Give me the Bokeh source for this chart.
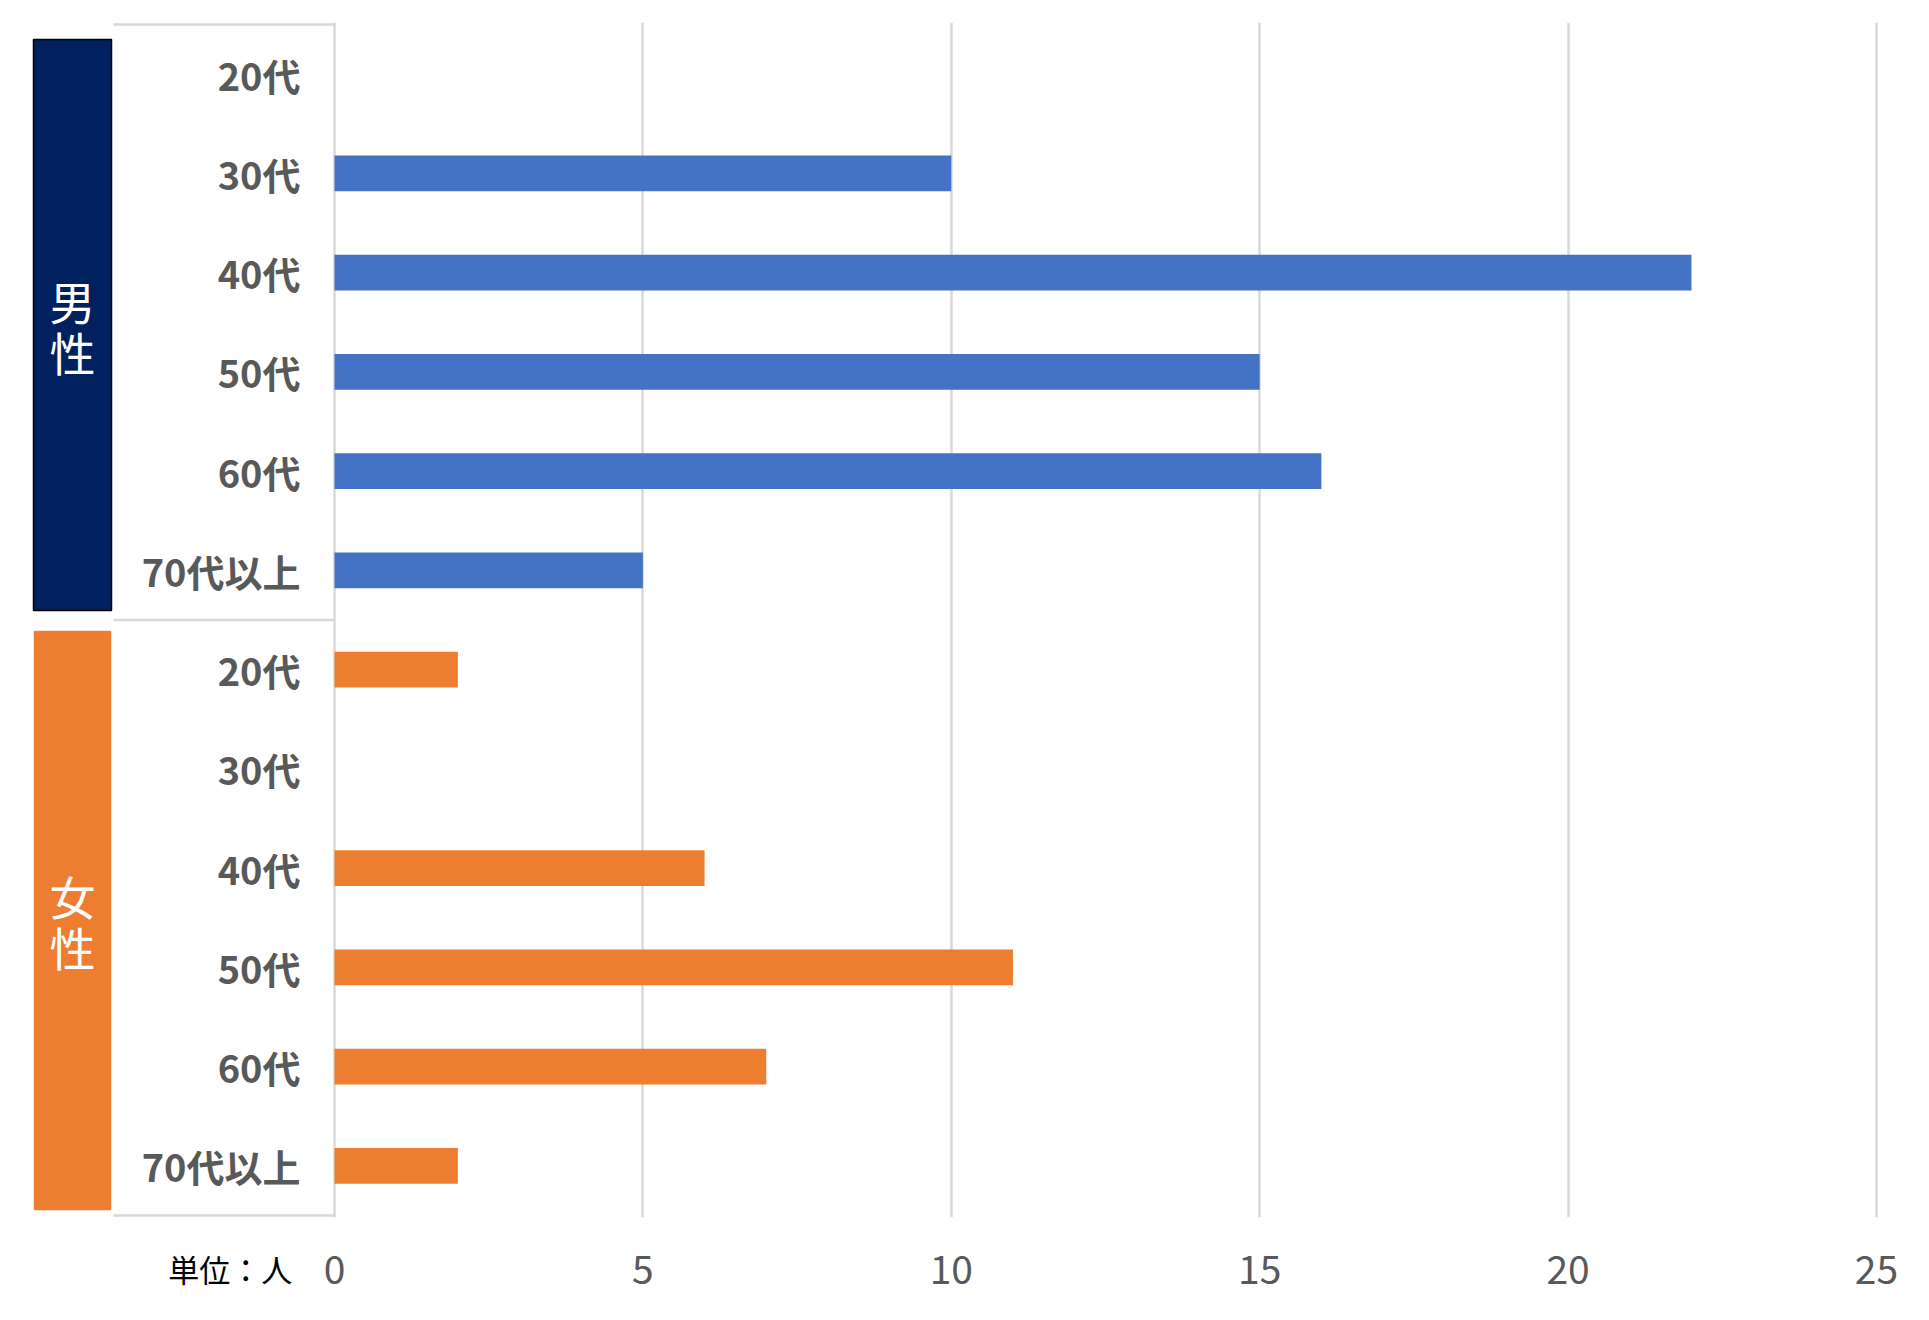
from bokeh.plotting import figure
from bokeh.models import Range1d, FixedTicker, ColumnDataSource, LinearAxis
from bokeh.core.properties import value
from bokeh.embed import file_html
from bokeh.resources import INLINE

# ---- data ----
ages = ["20代", "30代", "40代", "50代", "60代", "70代以上"]
genders = ["男性", "女性"]
male_values = [0, 10, 22, 15, 16, 5]
female_values = [2, 0, 6, 11, 7, 2]
x_ticks = [0, 5, 10, 15, 20, 25]
unit_label = "単位：人"

# ---- colours ----
BLUE = "#4472C4"
ORANGE = "#ED7D31"
NAVY = "#002060"
GRID = "#D9D9D9"
TEXT = "#595959"
FONT_NAME = "Noto Sans CJK JP"
FONT = value(FONT_NAME)

# ---- geometry (figure pixels) ----
W, H = 1910, 1304
px0, px25 = 334, 1876
k = (px25 - px0) / 25.0
frame_right = 1900
row_h = 99.25
top_px = 24
n_rows = len(ages) * len(genders)
pad = 2 / row_h

x_start = -px0 / k
x_end = (frame_right - px0) / k

def dx(px):
    return (px - px0) / k

def dy(py):
    return n_rows - (py - top_px) / row_h

p = figure(width=W, height=H,
           x_range=Range1d(x_start, x_end),
           y_range=Range1d(-pad, n_rows + pad),
           output_backend="svg", toolbar_location=None,
           y_axis_location=None,
           min_border_left=0, min_border_right=W - frame_right,
           min_border_top=top_px - 2,
           min_border_bottom=H - (top_px + int(row_h * n_rows) + 2))
p.outline_line_color = None
p.background_fill_color = "white"
p.border_fill_color = "white"

# main value axis
ticker = FixedTicker(ticks=x_ticks)
main_ax = p.xaxis[0]
main_ax.ticker = ticker
main_ax.axis_line_color = None
main_ax.major_tick_line_color = None
main_ax.minor_tick_line_color = None
main_ax.major_label_text_font = FONT_NAME
main_ax.major_label_text_font_size = "39px"
main_ax.major_label_text_color = TEXT
main_ax.major_label_standoff = -45

# unit caption axis (sits first, main axis labels are pulled up beside it)
unit_pos = round(dx(230), 2)
unit_ax = LinearAxis(ticker=FixedTicker(ticks=[unit_pos]),
                     major_label_overrides={unit_pos: unit_label},
                     axis_line_color=None, major_tick_line_color=None,
                     minor_tick_line_color=None,
                     major_label_text_font=FONT_NAME,
                     major_label_text_font_size="31px",
                     major_label_text_color="#000000",
                     major_label_standoff=22)
p.below = [unit_ax, main_ax]

p.xgrid.ticker = ticker
p.xgrid.grid_line_color = GRID
p.xgrid.grid_line_width = 2.5
p.ygrid.grid_line_color = None

# rows: male on top, then female
ys, vals, cols, labs = [], [], [], []
for gi, (g, series, c) in enumerate(zip(genders, [male_values, female_values], [BLUE, ORANGE])):
    for ai, (a, v) in enumerate(zip(ages, series)):
        idx = gi * len(ages) + ai
        ys.append(n_rows - 0.5 - idx)
        vals.append(v)
        cols.append(c)
        labs.append(a)

src = ColumnDataSource(dict(y=ys, v=vals, c=cols, lab=labs))
p.hbar(y="y", left=0, right="v", height=0.36, fill_color="c", line_color=None, source=src)

# category labels
p.text(x=dx(300), y="y", text="lab", source=src, text_align="right", text_baseline="middle",
       text_font=FONT, text_font_style="bold", text_font_size="38px", text_color=TEXT)

# separator lines of category area
sep_y = [n_rows, n_rows - len(ages), 0]
p.segment(x0=[dx(113)] * 3, x1=[0] * 3, y0=sep_y, y1=sep_y, line_color=GRID, line_width=2.5)

# gender boxes
left = [dx(33), dx(34)]
right = [dx(111), dx(110)]
top = [dy(39), dy(631)]
bottom = [dy(610), dy(1209)]
cx = [(l + r) / 2 for l, r in zip(left, right)]
cy = [(t + b) / 2 for t, b in zip(top, bottom)]
p.quad(left=left, right=right, top=top, bottom=bottom, fill_color=[NAVY, ORANGE],
       line_color=["#000000", ORANGE], line_width=1.5)

# vertical gender text, one character per line
char_step = 51 / row_h
gx, gy, gt = [], [], []
for g, x, y in zip(genders, cx, cy):
    n = len(g)
    for j, ch in enumerate(g):
        gx.append(x)
        gy.append(y + ((n - 1) / 2 - j) * char_step)
        gt.append(ch)
p.text(x=gx, y=gy, text=gt, text_align="center", text_baseline="middle",
       text_font=FONT, text_font_size="46px", text_color="white")

open("out.html", "w").write(file_html(p, INLINE))
